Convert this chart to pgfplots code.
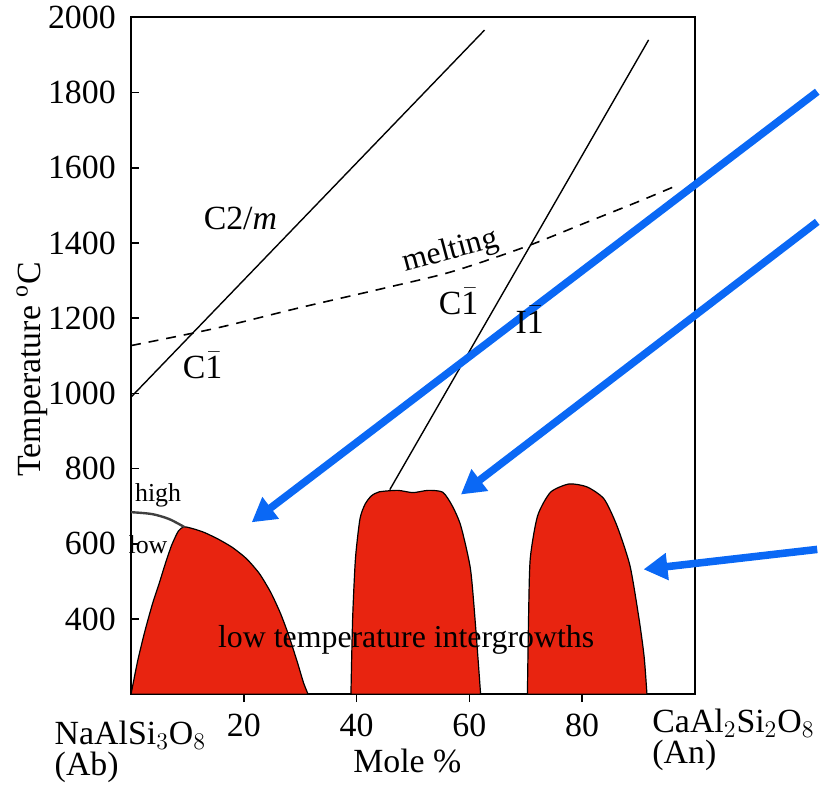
\documentclass[border=0pt]{standalone}
\usepackage{pgfplots}
\pgfplotsset{compat=1.18}
\usepackage{fontspec}
\setmainfont{Liberation Serif}
\usetikzlibrary{arrows.meta}
\definecolor{fillred}{RGB}{232,36,16}
\definecolor{arrowblue}{RGB}{10,104,245}
\newcommand{\ob}{$\bar{\mbox{1}}$}
\begin{document}
\fontsize{17}{20}\selectfont
\begin{tikzpicture}[every node/.append style={font=\fontsize{17}{20}\selectfont}]
\begin{axis}[
  scale only axis,
  width=283.3pt, height=340.1pt,
  xmin=0, xmax=100, ymin=200, ymax=2000,
  clip=false,
  axis line style={line width=1pt},
  xtick={20,40,60,80}, ytick={400,600,...,2000},
  xtick pos=bottom, ytick pos=left,
  xtick align=outside, ytick align=inside,
  major tick length=4pt,
  tick style={black, line width=0.8pt},
  /pgf/number format/assume math mode=true,
  /pgf/number format/set thousands separator={},
  ticklabel style={font=\fontsize{17}{20}\selectfont},
  yticklabel style={inner sep=0pt, xshift=-7.5pt},
]
% red regions
\addplot[fill=fillred, draw=black, line width=0.6pt, smooth, tension=0.4] coordinates {
(0,200) (1.2,290) (2.5,370) (3.8,440) (5,495) (6.1,548) (7.2,596) (8.4,634) (9.4,645)
(11,640) (13,630) (15.5,612) (18,590) (20.5,560) (22.8,520) (24.8,470) (26.5,415)
(28,355) (29.5,285) (30.6,230) (31.4,200)} -- cycle;
\addplot[fill=fillred, draw=black, line width=0.6pt, smooth, tension=0.4] coordinates {
(39,200) (39.3,400) (39.8,560) (40.6,666) (41.5,705) (42.6,727) (44,738) (47.3,742)
(50,736) (52.7,742) (55.3,737) (57,700) (58.5,647) (60.2,533) (61.1,382) (62,200)} -- cycle;
\addplot[fill=fillred, draw=black, line width=0.6pt, smooth, tension=0.4] coordinates {
(70.3,200) (70.5,400) (70.8,560) (72.1,674) (74.4,737) (77.7,759) (80.9,751) (83.9,719)
(86.2,647) (88.5,541) (90.1,400) (91,300) (91.5,200)} -- cycle;
% high/low boundary
\addplot[black!75, line width=1.2pt, smooth] coordinates {(0,684) (3.7,679) (6.7,666) (9.4,645)};
% C2/m - C-1 boundary
\addplot[black, line width=0.7pt] coordinates {(0,990) (62.7,1966)};
% C-1 - I-1 boundary
\addplot[black, line width=0.7pt] coordinates {(45.9,744) (91.8,1940)};
% melting
\addplot[black, line width=0.8pt, dash pattern=on 5pt off 4pt, smooth] coordinates {
(0,1127) (15,1173) (30,1228) (45,1280) (57,1324) (70,1390) (81,1456) (90,1510) (97,1554)};
% arrows
\addplot[arrowblue, line width=3.8pt, -{Triangle[length=12pt,width=13pt]}] coordinates {(121.7,1802) (21.4,657)};
\addplot[arrowblue, line width=3.8pt, -{Triangle[length=12pt,width=13pt]}] coordinates {(121.7,1456) (58.5,731)};
\addplot[arrowblue, line width=3.8pt, -{Triangle[length=12pt,width=13pt]}] coordinates {(121.7,585) (90.9,532)};
% labels
\node[font=\fontsize{17}{20}\selectfont] at (axis cs:19.4,1464) {C2/\textit{m}};
\node[font=\fontsize{17}{20}\selectfont] at (axis cs:12.7,1074) {C\ob};
\node[font=\fontsize{16}{19}\selectfont, rotate=15] at (axis cs:56.7,1377) {melting};
\node[font=\fontsize{17}{20}\selectfont] at (axis cs:58.1,1244) {C\ob};
\node[font=\fontsize{17}{20}\selectfont] at (axis cs:70.7,1196) {I\ob};
\node[font=\fontsize{13}{15}\selectfont] at (axis cs:4.8,729) {high};
\node[font=\fontsize{13}{15}\selectfont, anchor=west, inner sep=0pt] at (axis cs:-0.5,597) {low};
\node[font=\fontsize{16}{19}\selectfont] at (axis cs:48.8,345) {low temperature intergrowths};
\node[font=\fontsize{17}{20}\selectfont, rotate=90] at (axis cs:-17.6,1064) {Temperature \textsuperscript{o}C};
\node[font=\fontsize{17}{20}\selectfont] at (axis cs:49,22) {Mole \%};
\node[font=\fontsize{17}{15.5}\selectfont, anchor=north west, align=left, inner sep=0pt] at (axis cs:-13.6,130) {NaAlSi$_3$O$_8$\\(Ab)};
\node[font=\fontsize{17}{15.5}\selectfont, anchor=north west, align=left, inner sep=0pt] at (axis cs:92.4,162) {CaAl$_2$Si$_2$O$_8$\\(An)};
\coordinate (bl) at (axis cs:-23.24,-42);
\coordinate (tr) at (axis cs:121.63,2046);
\end{axis}
\path (bl) rectangle (tr);
\end{tikzpicture}
\end{document}
